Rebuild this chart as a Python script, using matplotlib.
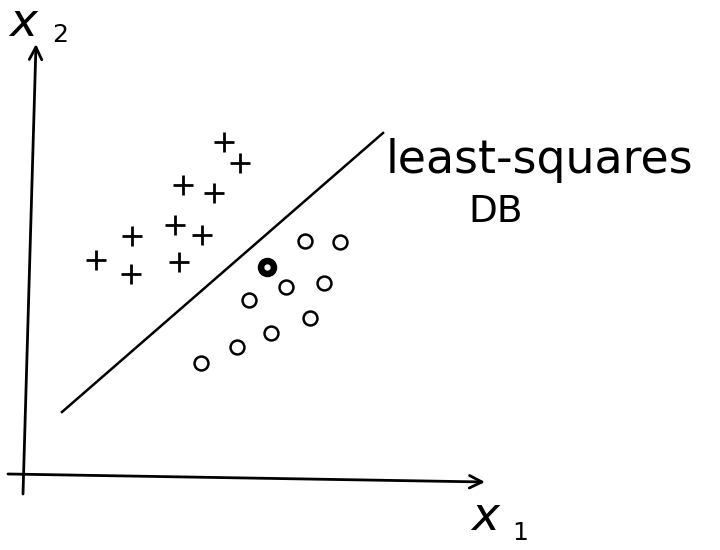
import matplotlib
matplotlib.use("Agg")
import matplotlib.pyplot as plt
import numpy as np

# sample points (sketch coordinates, y grows downward)
plus_x = [224, 240, 183, 214, 175, 202, 132, 96, 131, 179]
plus_y = [142, 163, 185, 193, 225, 235, 236, 260, 274, 262]
circ_x = [305, 340, 286, 324, 249, 310, 271, 237, 201]
circ_y = [241, 242, 287, 283, 300, 318, 333, 347, 363]
hilite_x = [267]
hilite_y = [267]

# least-squares decision boundary end points
db_x = [62, 383]
db_y = [412, 133]

fig = plt.figure(figsize=(7.2, 5.5), dpi=100)
ax = fig.add_axes([0, 0, 1, 1])
ax.set_xlim(0, 720)
ax.set_ylim(550, 0)
ax.axis("off")

# axes arrows
arrow = dict(arrowstyle="->,head_length=0.9,head_width=0.45", color="black", lw=2.0,
             shrinkA=0, shrinkB=0)
ax.annotate("", xy=(36, 44), xytext=(23, 494), arrowprops=arrow)
ax.annotate("", xy=(485, 482), xytext=(8, 474), arrowprops=arrow)

ax.plot(db_x, db_y, color="black", lw=1.8)

ax.plot(plus_x, plus_y, "+", color="black", ms=15, mew=2.0)
ax.plot(circ_x, circ_y, "o", color="black", mfc="white", ms=10, mew=1.8)
ax.plot(hilite_x, hilite_y, "o", color="black", mfc="black", ms=12, mew=2)
ax.plot(hilite_x, hilite_y, "o", color="white", ms=3.5)

ax.text(8, 36, "$x$", fontsize=34, va="baseline", ha="left")
ax.text(52, 42, "2", fontsize=18, va="baseline", ha="left")
ax.text(470, 530, "$x$", fontsize=34, va="baseline", ha="left")
ax.text(512, 540, "1", fontsize=18, va="baseline", ha="left")

ax.text(386, 173, "least-squares", fontsize=33, va="baseline", ha="left")
ax.text(468, 222, "DB", fontsize=27, va="baseline", ha="left")

fig.savefig("out.png", dpi=100)
